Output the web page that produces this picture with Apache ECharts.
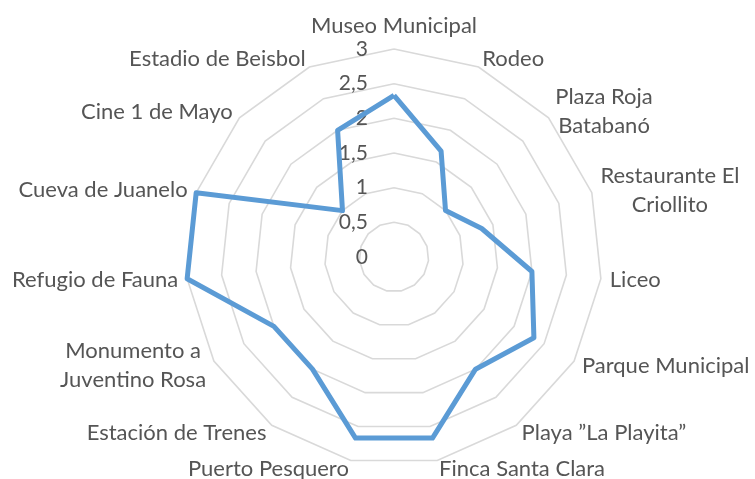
<!DOCTYPE html>
<html>
<head>
<meta charset="utf-8">
<script src="https://cdn.jsdelivr.net/npm/echarts@6/dist/echarts.min.js"></script>
<style>html,body{margin:0;padding:0;background:#fff}#c{width:755px;height:479px}</style>
</head>
<body>
<div id="c"></div>
<script>
// Categories in clockwise order starting at the top
var categories = [
  'Museo Municipal', 'Rodeo', 'Plaza Roja\nBatabanó', 'Restaurante El\nCriollito', 'Liceo',
  'Parque Municipal', 'Playa ”La Playita”', 'Finca Santa Clara', 'Puerto Pesquero',
  'Estación de Trenes', 'Monumento a\nJuventino Rosa', 'Refugio de Fauna', 'Cueva de Juanelo',
  'Cine 1 de Mayo', 'Estadio de Beisbol'
];
var values = [2.33, 1.67, 1, 1.33, 2, 2.33, 2, 2.67, 2.67, 2, 2, 3, 3, 1, 2];
var tickLabels = ['0', '0,5', '1', '1,5', '2', '2,5', '3'];
var axisMax = 3;

var FONT = 'Lato';
var cx = 394, cy = 257, R = 208;

// ECharts places radar indicators counter-clockwise; reorder to get clockwise layout
function toCCW(arr) { return [arr[0]].concat(arr.slice(1).reverse()); }
var indCats = toCCW(categories);
var indVals = toCCW(values);

var chart = echarts.init(document.getElementById('c'), null, {renderer: 'canvas'});
chart.setOption({
  animation: false,
  backgroundColor: '#ffffff',
  radar: {
    center: [cx, cy],
    radius: R,
    startAngle: 90,
    splitNumber: 6,
    shape: 'polygon',
    nameGap: 9,
    indicator: indCats.map(function (n) { return {name: n, min: 0, max: axisMax}; }),
    axisName: {
      color: '#595959',
      fontFamily: FONT,
      fontSize: 22,
      formatter: function (name) {
        return name.split('\n').map(function (l) { return '{c|' + l + '}'; }).join('\n');
      },
      rich: {
        c: {align: 'center', color: '#555555', fontFamily: FONT, fontSize: 22, lineHeight: 29}
      }
    },
    axisLine: {show: false},
    axisTick: {show: false},
    axisLabel: {show: false},
    splitLine: {lineStyle: {color: '#d9d9d9', width: 1.6}},
    splitArea: {show: false}
  },
  grid: {left: cx, top: cy - R, width: 1, height: R},
  xAxis: {type: 'value', show: false},
  yAxis: {
    type: 'value', min: 0, max: axisMax, interval: 0.5,
    axisLine: {show: false}, axisTick: {show: false}, splitLine: {show: false},
    axisLabel: {
      margin: 26, color: '#555555', fontFamily: FONT, fontSize: 21,
      formatter: function (v) { return tickLabels[Math.round(v * 2)]; }
    }
  },
  series: [{
    type: 'radar',
    symbol: 'none',
    lineStyle: {color: '#5b9bd5', width: 5, join: 'round'},
    data: [{value: indVals}]
  }]
});
</script>
</body>
</html>
